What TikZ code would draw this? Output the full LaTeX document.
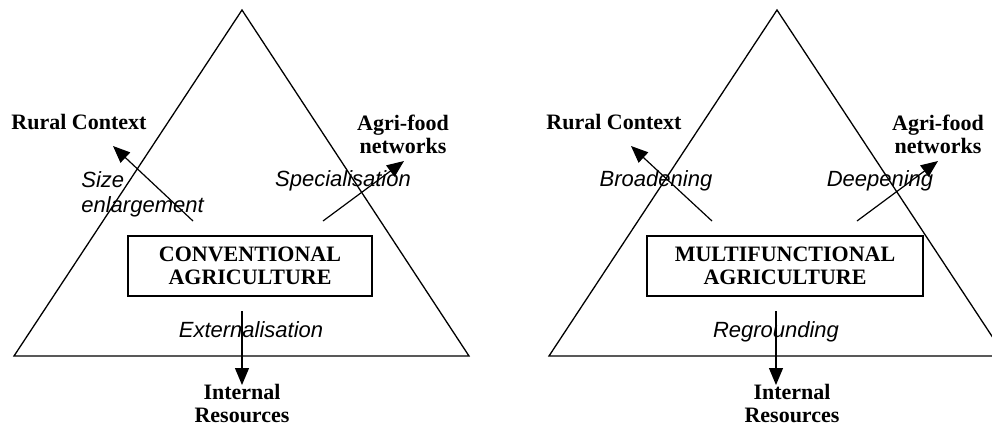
\documentclass[tikz,border=0pt]{standalone}
\usepackage{fontspec}
\setmainfont{Liberation Serif}
\setsansfont{Liberation Sans}
\usetikzlibrary{arrows.meta}

\begin{document}
\begin{tikzpicture}[x=0.5pt,y=-0.5pt,
  place/.style={font=\fontsize{11}{11.5}\selectfont\bfseries,align=center},
  way/.style={font=\fontsize{11}{12.5}\selectfont\sffamily\itshape,align=left,inner sep=0pt},
  farm/.style={draw,line width=0.65pt,minimum height=30pt,inner sep=0pt,font=\fontsize{11}{11.5}\selectfont\bfseries,align=center},
  move/.style={line width=0.6pt,-{Triangle[length=8.5pt,width=7pt]}}]
\useasboundingbox (0,0) rectangle (992,425);
\clip (0,0) rectangle (992,425);
% conventional
\draw[line width=0.65pt] (242,10) -- (14,356) -- (469,356) -- cycle;
\node[farm,minimum width=122pt] (conv) at (250,266) {CONVENTIONAL\\AGRICULTURE};
\node[place] (rural1) at (79,122) {Rural Context};
\node[place] (agri1) at (403,134) {Agri-food\\networks};
\node[place,inner sep=1pt] (res1) at (242,403) {Internal\\Resources};
\node[way,anchor=west] (size) at (81,194) {Size\\enlargement};
\node[way] (spec) at (343,181) {Specialisation};
\node[way] (ext) at (251,330) {Externalisation};
\coordinate (c1) at (193,221);
\coordinate (c2) at (323,221);
\coordinate (c3) at (242,311);
\coordinate (t1) at (113,146);
\coordinate (t2) at (404,161);
\coordinate (t3) at (242,385);
\draw[move] (c1) -- (t1);
\draw[move] (c2) -- (t2);
\draw[move] (c3) -- (t3);
% multifunctional
\draw[line width=0.65pt] (777,10) -- (549,356) -- (1005,356) -- cycle;
\node[farm,minimum width=138pt] (multi) at (785,266) {MULTIFUNCTIONAL\\AGRICULTURE};
\node[place] (rural2) at (614,122) {Rural Context};
\node[place] (agri2) at (938,134) {Agri-food\\networks};
\node[place,inner sep=1pt] (res2) at (792,403) {Internal\\Resources};
\node[way] (broad) at (656,181) {Broadening};
\node[way] (deep) at (880,181) {Deepening};
\node[way] (regr) at (776,332) {Regrounding};
\coordinate (m1) at (712,221);
\coordinate (m2) at (857,221);
\coordinate (m3) at (776,311);
\coordinate (u1) at (631,146);
\coordinate (u2) at (938,161);
\coordinate (u3) at (776,385);
\draw[move] (m1) -- (u1);
\draw[move] (m2) -- (u2);
\draw[move] (m3) -- (u3);
\end{tikzpicture}
\end{document}
